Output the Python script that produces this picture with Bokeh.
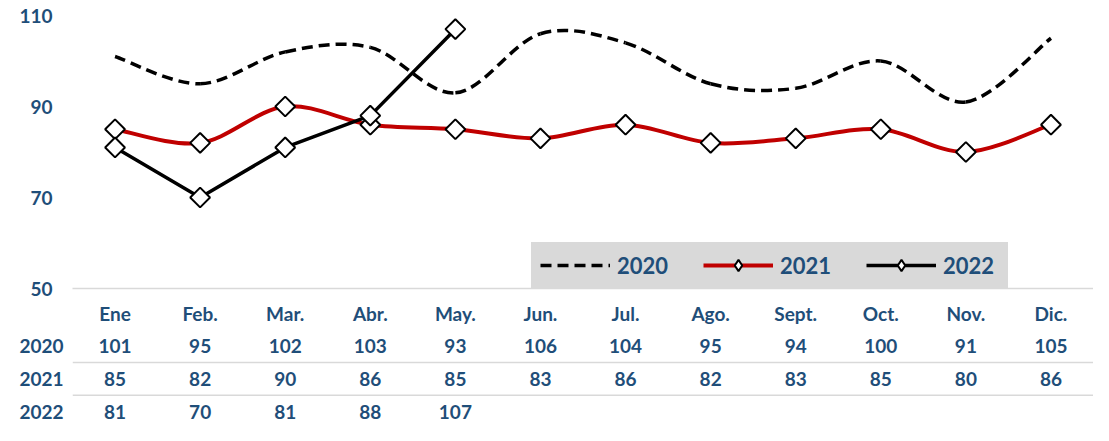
from math import pi
from bokeh.plotting import figure
from bokeh.models import Range1d, FixedTicker, Span, Legend, LegendItem
from bokeh.layouts import column
from bokeh.embed import file_html
from bokeh.resources import INLINE
from bokeh.core.properties import value

# ---- data ----
months = ["Ene", "Feb.", "Mar.", "Abr.", "May.", "Jun.", "Jul.", "Ago.", "Sept.", "Oct.", "Nov.", "Dic."]
years = ["2020", "2021", "2022"]
v2020 = [101, 95, 102, 103, 93, 106, 104, 95, 94, 100, 91, 105]
v2021 = [85, 82, 90, 86, 85, 83, 86, 82, 83, 85, 80, 86]
v2022 = [81, 70, 81, 88, 107]
y_ticks = [50, 70, 90, 110]

BLUE = "#1F4E79"
RED = "#C00000"
FONT = "Lato"
GRAY = "#D9D9D9"

xs = list(range(len(months)))


def smooth(xv, yv):
    """Bezier control points (Excel-like smoothed line) from the data points."""
    n = len(xv)
    out = dict(x0=[], y0=[], x1=[], y1=[], cx0=[], cy0=[], cx1=[], cy1=[])
    for i in range(n - 1):
        a = max(i - 1, 0)
        b = min(i + 2, n - 1)
        out["x0"].append(xv[i]); out["y0"].append(yv[i])
        out["x1"].append(xv[i + 1]); out["y1"].append(yv[i + 1])
        out["cx0"].append(xv[i] + (xv[i + 1] - xv[a]) / 6.0)
        out["cy0"].append(yv[i] + (yv[i + 1] - yv[a]) / 6.0)
        out["cx1"].append(xv[i + 1] - (xv[b] - xv[i]) / 6.0)
        out["cy1"].append(yv[i + 1] - (yv[b] - yv[i]) / 6.0)
    return out


# ---- chart ----
p = figure(width=1093, height=300, x_range=Range1d(-0.5, 11.5), y_range=Range1d(50, 113.3),
           output_backend="svg", toolbar_location=None,
           min_border_left=72, min_border_right=0, min_border_top=0, min_border_bottom=12)
p.outline_line_color = None
p.grid.visible = False

p.xaxis.ticker = FixedTicker(ticks=[])
p.xaxis.axis_line_color = GRAY
p.xaxis.axis_line_width = 1.5
p.xaxis.major_tick_out = 0
p.xaxis.major_tick_in = 0
p.xaxis.major_label_standoff = 0
p.xaxis.minor_tick_line_color = None

p.yaxis.ticker = FixedTicker(ticks=y_ticks)
p.yaxis.axis_line_color = None
p.yaxis.major_tick_line_color = None
p.yaxis.minor_tick_line_color = None
p.yaxis.major_tick_out = 0
p.yaxis.major_tick_in = 0
p.yaxis.major_label_standoff = 20
p.yaxis.major_label_text_font = FONT
p.yaxis.major_label_text_font_style = "bold"
p.yaxis.major_label_text_font_size = "19px"
p.yaxis.major_label_text_color = BLUE

s20 = smooth(xs, v2020)
r20 = p.bezier(source=s20, x0="x0", y0="y0", x1="x1", y1="y1", cx0="cx0", cy0="cy0", cx1="cx1", cy1="cy1",
               line_color="black", line_width=3.5, line_dash="11 6")

s21 = smooth(xs, v2021)
r21 = p.bezier(source=s21, x0="x0", y0="y0", x1="x1", y1="y1", cx0="cx0", cy0="cy0", cx1="cx1", cy1="cy1",
               line_color=RED, line_width=4)
# legend-only diamond proxies (zero size, hidden under the real markers)
k21 = p.scatter(xs, v2021, marker="diamond", size=0, fill_color="white", line_color="black", line_width=2)
m21 = p.scatter(xs, v2021, marker="square", angle=pi / 4, size=14, fill_color="white",
                line_color="black", line_width=2)

r22 = p.line(xs[:len(v2022)], v2022, line_color="black", line_width=3.5)
k22 = p.scatter(xs[:len(v2022)], v2022, marker="diamond", size=0, fill_color="white",
                line_color="black", line_width=2)
m22 = p.scatter(xs[:len(v2022)], v2022, marker="square", angle=pi / 4, size=14, fill_color="white",
                line_color="black", line_width=2)

legend = Legend(items=[LegendItem(label=years[0], renderers=[r20]),
                       LegendItem(label=years[1], renderers=[r21, k21]),
                       LegendItem(label=years[2], renderers=[r22, k22])],
                location=(459, 0), orientation="horizontal",
                background_fill_color=GRAY, background_fill_alpha=1.0,
                border_line_color=GRAY, border_line_width=1, glyph_width=70, glyph_height=28,
                label_standoff=7, label_width=56, label_height=28, spacing=30, padding=8, margin=0,
                label_text_font=FONT, label_text_font_style="bold",
                label_text_font_size="22px", label_text_color=BLUE)
p.add_layout(legend)

# ---- data table under the chart ----
t = figure(width=1093, height=125, x_range=Range1d(-0.5, 11.5), y_range=Range1d(3.428, -0.398),
           output_backend="svg", toolbar_location=None, x_axis_location=None,
           min_border_left=72, min_border_right=0, min_border_top=0, min_border_bottom=0)
t.outline_line_color = None
t.grid.visible = False
t.yaxis.ticker = FixedTicker(ticks=[1, 2, 3])
t.yaxis.major_label_overrides = {1: years[0], 2: years[1], 3: years[2]}
t.yaxis.axis_line_color = None
t.yaxis.major_tick_line_color = None
t.yaxis.minor_tick_line_color = None
t.yaxis.major_tick_out = 0
t.yaxis.major_tick_in = 0
t.yaxis.major_label_standoff = 9
t.yaxis.major_label_text_font = FONT
t.yaxis.major_label_text_font_style = "bold"
t.yaxis.major_label_text_font_size = "19px"
t.yaxis.major_label_text_color = BLUE

common = dict(text_font=value(FONT), text_font_style="bold", text_font_size="19px",
              text_color=BLUE, text_baseline="middle", text_align="center")
t.text(x=xs, y=[0] * len(months), text=months, **common)
for r, vals in enumerate([v2020, v2021, v2022], start=1):
    t.text(x=xs[:len(vals)], y=[r] * len(vals), text=[str(v) for v in vals], **common)

for loc in (1.5, 2.5):
    t.add_layout(Span(location=loc, dimension="width", line_color=GRAY, line_width=1.5))

layout = column(p, t, spacing=0)
open("out.html", "w").write(file_html(layout, INLINE))
